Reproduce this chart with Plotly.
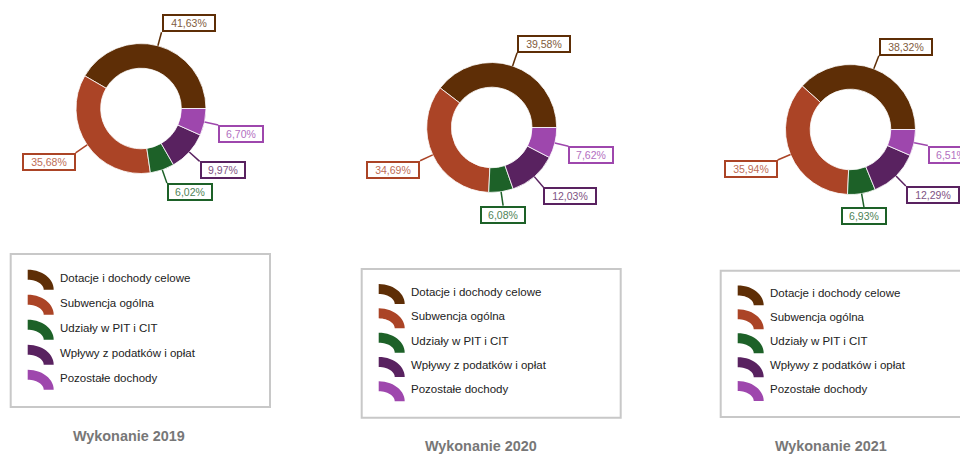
import math
import plotly.graph_objects as go

# page body has an 8px default margin: the figure fills the rest of the 968x454 window
OFF = 8
W, H = 968 - OFF, 454 - OFF

# ---------------- data ----------------
categories = [
    "Dotacje i dochody celowe",
    "Subwencja ogólna",
    "Udziały w PIT i CIT",
    "Wpływy z podatków i opłat",
    "Pozostałe dochody",
]
values_2019 = [41.63, 35.68, 6.02, 9.97, 6.70]
values_2020 = [39.58, 34.69, 6.08, 12.03, 7.62]
values_2021 = [38.32, 35.94, 6.93, 12.29, 6.51]
titles = ["Wykonanie 2019", "Wykonanie 2020", "Wykonanie 2021"]

colors = ["#5E2E06", "#AB4426", "#1D6128", "#592260", "#9E47AD"]

# ---------------- layout geometry (window pixels) ----------------
donut_centers = [(141, 108.5), (491.7, 127.5), (850.5, 129.5)]
R = 65
HOLE = 0.62
LEAD = 14
legend_boxes = [(10.7, 254, 270, 407), (361.7, 269, 620.7, 417.7), (720.7, 270.7, 982, 417)]
title_pos = [(129, 436), (481, 446), (831, 446)]


def X(px):
    return (px - OFF) / W


def Y(py):
    return 1 - (py - OFF) / H


def tint(hexcol, a=0.78):
    h = hexcol.lstrip("#")
    r, g, b = int(h[0:2], 16), int(h[2:4], 16), int(h[4:6], 16)
    mix = lambda c: int(round(c * a + 255 * (1 - a)))
    return "rgb(%d,%d,%d)" % (mix(r), mix(g), mix(b))


def fmt(v):
    return ("%.2f" % v).replace(".", ",") + "%"


fig = go.Figure()
shapes = []
annotations = []

all_values = [values_2019, values_2020, values_2021]

for k, vals in enumerate(all_values):
    cx, cy = donut_centers[k]
    total = sum(vals)
    first_deg = vals[0] / total * 360.0
    fig.add_trace(go.Pie(
        labels=categories,
        values=vals,
        sort=False,
        direction="counterclockwise",
        # first slice starts at 3 o'clock and runs counter-clockwise
        rotation=90 - first_deg,
        hole=HOLE,
        textinfo="none",
        showlegend=False,
        marker=dict(colors=colors, line=dict(color="rgba(255,255,255,0.8)", width=1)),
        domain=dict(x=[X(cx - R), X(cx + R)], y=[Y(cy + R), Y(cy - R)]),
    ))

    cum = 0.0
    for i, v in enumerate(vals):
        mid = (cum + v / 2) / total * 360.0
        cum += v
        a = math.radians(mid)
        ca, sa = math.cos(a), math.sin(a)
        tx, ty = cx + R * ca, cy - R * sa
        ex, ey = cx + (R + LEAD) * ca, cy - (R + LEAD) * sa
        shapes.append(dict(type="line", xref="paper", yref="paper",
                           x0=X(tx), y0=Y(ty), x1=X(ex), y1=Y(ey),
                           line=dict(color=colors[i], width=1.5)))
        if ca > 0.2:
            xa = "left"
        elif ca < -0.2:
            xa = "right"
        else:
            xa = "center"
        ya = "bottom" if sa > 0 else "top"
        txt = fmt(v)
        annotations.append(dict(
            x=X(ex), y=Y(ey), xref="paper", yref="paper", text=txt,
            showarrow=False, xanchor=xa, yanchor=ya,
            width=8 * len(txt), height=12,
            bordercolor=colors[i], borderwidth=2, borderpad=1, bgcolor="white",
            font=dict(family="Liberation Sans, Arial, sans-serif", size=10.5, color=tint(colors[i])),
        ))

    # legend box
    bx0, by0, bx1, by1 = legend_boxes[k]
    bh = by1 - by0
    shapes.append(dict(type="rect", xref="paper", yref="paper",
                       x0=X(bx0), y0=Y(by1), x1=X(bx1), y1=Y(by0),
                       line=dict(color="#c8c8c8", width=2), fillcolor="white", layer="below"))
    for i, name in enumerate(categories):
        ty = by0 + 0.155 * bh + 0.1635 * bh * i
        ix = bx0 + 17
        itop = ty - 8
        # quarter-ring legend icon
        pts = []
        n = 14
        for j in range(n + 1):
            t = math.radians(90 - 90 * j / n)
            pts.append((ix + 26 * math.cos(t), itop + 20 - 20 * math.sin(t)))
        for j in range(n + 1):
            t = math.radians(90 * j / n)
            pts.append((ix + 16 * math.cos(t), itop + 20 - 10 * math.sin(t)))
        path = "M " + " L ".join("%.5f,%.5f" % (X(p[0]), Y(p[1])) for p in pts) + " Z"
        shapes.append(dict(type="path", xref="paper", yref="paper", path=path,
                           fillcolor=colors[i], line=dict(width=0)))
        annotations.append(dict(
            x=X(bx0 + 47.5), y=Y(ty), xref="paper", yref="paper", text=name,
            showarrow=False, xanchor="left", yanchor="middle",
            font=dict(family="Liberation Sans, Arial, sans-serif", size=11.5, color="#222222"),
        ))

    # title
    tx_, ty_ = title_pos[k]
    annotations.append(dict(
        x=X(tx_), y=Y(ty_), xref="paper", yref="paper", text="<b>%s</b>" % titles[k],
        showarrow=False, xanchor="center", yanchor="middle",
        font=dict(family="Liberation Sans, Arial, sans-serif", size=14.4, color="#777777"),
    ))

fig.update_layout(
    width=W, height=H,
    margin=dict(l=0, r=0, t=0, b=0),
    paper_bgcolor="white", plot_bgcolor="white",
    shapes=shapes, annotations=annotations,
    showlegend=False,
)

fig.write_html("out.html")
